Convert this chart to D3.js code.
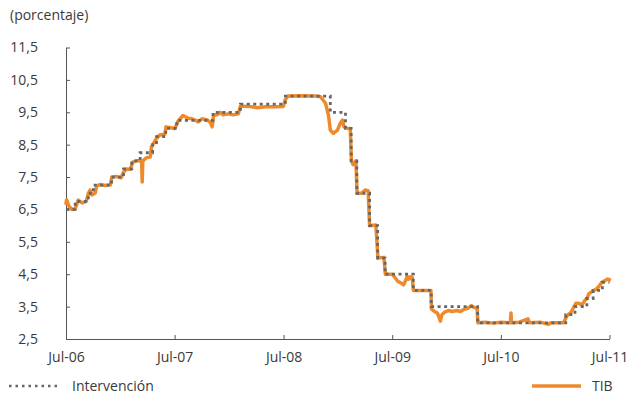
<!DOCTYPE html>
<html>
<head>
<meta charset="utf-8">
<script src="https://cdn.jsdelivr.net/npm/d3@7"></script>
<style>
  html, body { margin: 0; padding: 0; background: #fff; }
  svg { display: block; font-family: "Open Sans", sans-serif; }
</style>
</head>
<body>
<svg id="chart" width="631" height="397"></svg>
<script>
// ---- Data ----
const interDates = ["2006-07-01","2006-08-01","2006-09-14","2006-10-01","2006-12-01","2007-01-10","2007-02-07","2007-03-07","2007-04-18","2007-05-01","2007-06-01","2007-07-08","2007-11-07","2008-02-07","2008-07-07","2008-12-05","2009-01-25","2009-02-13","2009-03-04","2009-04-16","2009-05-13","2009-06-07","2009-09-10","2009-11-09","2010-04-14","2011-02-04","2011-03-07","2011-04-16","2011-05-07","2011-06-07","2011-07-01"];
const interValues = [6.5,6.75,7.0,7.25,7.5,7.75,8.0,8.25,8.5,8.75,9.0,9.25,9.5,9.75,10.0,9.5,9.0,8.0,7.0,6.0,5.0,4.5,4.0,3.5,3.0,3.25,3.5,3.75,4.0,4.25,4.25];

const tibDates = ["2006-07-01","2006-07-03","2006-07-11","2006-07-21","2006-08-01","2006-08-11","2006-08-24","2006-09-07","2006-09-14","2006-09-20","2006-09-26","2006-10-07","2006-10-12","2006-10-23","2006-11-10","2006-11-27","2006-12-02","2006-12-16","2007-01-03","2007-01-10","2007-01-20","2007-02-03","2007-02-09","2007-02-22","2007-03-06","2007-03-12","2007-03-14","2007-03-16","2007-03-29","2007-04-10","2007-04-14","2007-05-01","2007-05-12","2007-05-29","2007-06-02","2007-06-19","2007-07-02","2007-07-12","2007-07-29","2007-08-15","2007-08-28","2007-09-08","2007-09-18","2007-10-01","2007-10-18","2007-10-28","2007-11-04","2007-11-09","2007-11-24","2007-12-01","2007-12-11","2007-12-27","2008-01-14","2008-01-31","2008-02-07","2008-03-10","2008-04-04","2008-05-01","2008-06-03","2008-06-30","2008-07-06","2008-07-16","2008-08-26","2008-10-16","2008-11-02","2008-11-19","2008-11-29","2008-12-05","2008-12-15","2008-12-29","2009-01-08","2009-01-15","2009-01-20","2009-02-01","2009-02-10","2009-02-14","2009-02-20","2009-03-01","2009-03-05","2009-03-20","2009-04-01","2009-04-11","2009-04-16","2009-05-07","2009-05-14","2009-06-03","2009-06-08","2009-07-01","2009-07-10","2009-07-20","2009-08-01","2009-08-08","2009-08-16","2009-08-20","2009-08-25","2009-08-31","2009-09-06","2009-09-10","2009-10-10","2009-11-08","2009-11-10","2009-11-20","2009-11-30","2009-12-10","2009-12-15","2009-12-23","2010-01-06","2010-01-19","2010-02-02","2010-02-15","2010-02-28","2010-03-12","2010-03-24","2010-04-01","2010-04-12","2010-04-15","2010-05-10","2010-06-05","2010-07-01","2010-08-02","2010-08-04","2010-08-06","2010-09-01","2010-09-30","2010-10-05","2010-11-10","2010-12-08","2010-12-15","2011-01-27","2011-02-10","2011-02-20","2011-03-01","2011-03-10","2011-03-20","2011-03-30","2011-04-10","2011-04-16","2011-04-23","2011-05-06","2011-05-19","2011-05-29","2011-06-05","2011-06-15","2011-06-25","2011-07-01"];
const tibValues = [6.68,6.8,6.6,6.5,6.52,6.79,6.7,6.75,7.0,7.1,6.95,7.0,7.23,7.27,7.24,7.26,7.5,7.52,7.48,7.65,7.75,7.74,7.95,8.0,8.0,7.95,7.35,8.0,8.1,8.12,8.43,8.69,8.8,8.82,9.05,9.02,9.0,9.22,9.4,9.32,9.3,9.26,9.2,9.3,9.26,9.2,9.05,9.4,9.44,9.5,9.42,9.45,9.42,9.45,9.69,9.68,9.64,9.67,9.67,9.68,9.88,10.0,10.01,10.0,9.98,9.78,9.4,8.95,8.85,8.95,9.17,9.26,9.05,9.0,9.0,8.0,7.88,8.0,7.0,7.0,7.1,7.08,6.0,6.02,5.0,5.02,4.5,4.5,4.4,4.28,4.22,4.17,4.32,4.44,4.35,4.42,4.4,4.0,4.0,4.0,3.42,3.35,3.3,3.05,3.25,3.32,3.38,3.35,3.38,3.35,3.42,3.45,3.53,3.48,3.45,3.0,3.02,2.99,3.02,3.0,3.3,3.0,3.02,3.12,3.0,3.02,2.95,3.0,3.0,3.24,3.3,3.45,3.6,3.6,3.55,3.7,3.75,3.9,3.98,4.05,4.15,4.25,4.3,4.35,4.33];

const yTickValues = [2.5,3.5,4.5,5.5,6.5,7.5,8.5,9.5,10.5,11.5];
const xTickDates = ["2006-07-01","2007-07-01","2008-07-01","2009-07-01","2010-07-01","2011-07-01"];
const seriesNames = ["Intervención","TIB"];

// ---- Setup ----
const parse = d3.timeParse("%Y-%m-%d");
const inter = interDates.map((d,i) => ({date: parse(d), value: interValues[i]}));
const tib = tibDates.map((d,i) => ({date: parse(d), value: tibValues[i]}));

const svg = d3.select("#chart");
const textColor = "#3a3a3a";
const axisColor = "#555";
const orange = "#EF8A2C";
const gray = "#666666";

const x = d3.scaleTime()
  .domain([parse("2006-07-01"), parse("2011-07-01")])
  .range([66, 609.5]);
const y = d3.scaleLinear().domain([2.5, 11.5]).range([339, 47.5]);

// y axis
const yAxis = d3.axisLeft(y)
  .tickValues(yTickValues)
  .tickSizeInner(-4).tickSizeOuter(0)
  .tickPadding(28)
  .tickFormat(d => d.toFixed(1).replace(".", ","));
const gy = svg.append("g").attr("transform", "translate(66,0)").call(yAxis);
gy.select(".domain").attr("stroke", axisColor);
gy.selectAll(".tick line").attr("stroke", axisColor);
gy.selectAll(".tick text").attr("fill", textColor).attr("font-size", 14)
  .attr("font-family", "'Open Sans', sans-serif");

// x axis
const xAxis = d3.axisBottom(x)
  .tickValues(xTickDates.map(parse))
  .tickSizeInner(-4).tickSizeOuter(0)
  .tickPadding(13)
  .tickFormat(d3.timeFormat("%b-%y"));
const gx = svg.append("g").attr("transform", "translate(0,339)").call(xAxis);
gx.select(".domain").attr("stroke", axisColor);
gx.selectAll(".tick line").attr("stroke", axisColor);
gx.selectAll(".tick text").attr("fill", textColor).attr("font-size", 14)
  .attr("font-family", "'Open Sans', sans-serif");

// axis title
svg.append("text").attr("x", 10).attr("y", 20)
  .attr("fill", textColor).attr("font-size", 14)
  .text("(porcentaje)");

// lines
const tibLine = d3.line().x(d => x(d.date)).y(d => y(d.value)).curve(d3.curveLinear);
svg.append("path").datum(tib)
  .attr("fill", "none").attr("stroke", orange).attr("stroke-width", 3.5)
  .attr("stroke-linejoin", "round").attr("stroke-linecap", "round")
  .attr("d", tibLine);

const interLine = d3.line().x(d => x(d.date)).y(d => y(d.value)).curve(d3.curveStepAfter);
svg.append("path").datum(inter)
  .attr("fill", "none").attr("stroke", gray).attr("stroke-width", 2.8)
  .attr("stroke-dasharray", "3,3.5")
  .attr("d", interLine);

// legend
const lg = svg.append("g");
lg.append("line").attr("x1", 9).attr("x2", 61).attr("y1", 386).attr("y2", 386)
  .attr("stroke", gray).attr("stroke-width", 2.5).attr("stroke-dasharray", "2.5,4");
lg.append("text").attr("x", 72).attr("y", 391).attr("fill", textColor)
  .attr("font-size", 14).text(seriesNames[0]);
lg.append("line").attr("x1", 532).attr("x2", 581).attr("y1", 386).attr("y2", 386)
  .attr("stroke", orange).attr("stroke-width", 3.5);
lg.append("text").attr("x", 592).attr("y", 391).attr("fill", textColor)
  .attr("font-size", 14).text(seriesNames[1]);
</script>
</body>
</html>
